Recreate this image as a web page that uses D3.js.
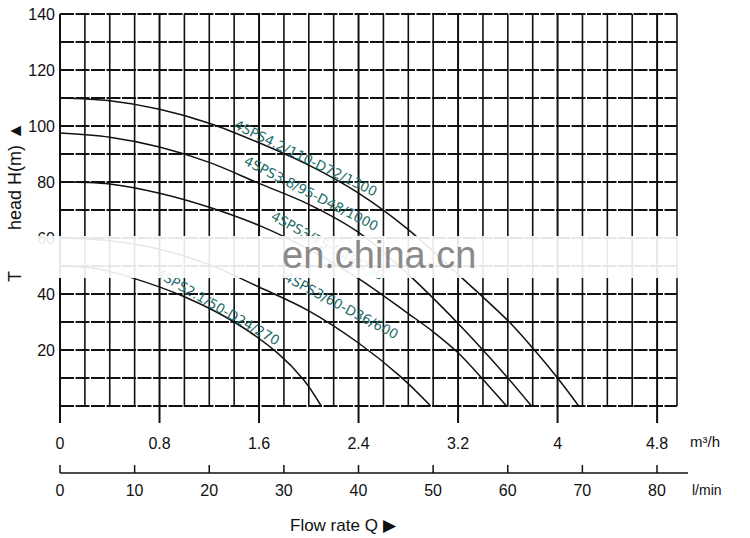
<!DOCTYPE html>
<html><head><meta charset="utf-8">
<script src="https://cdn.jsdelivr.net/npm/d3@7"></script>
<style>body{margin:0;background:#fff}</style></head>
<body><svg id="c" width="750" height="538"></svg>
<script>
const headTicks=[20,40,60,80,100,120,140];
const m3hTicks=[0,0.8,1.6,2.4,3.2,4,4.8];
const lminTicks=[0,10,20,30,40,50,60,70,80];
const curves=[
 {name:"4SPS4.2/110-D72/1300",pts:[[0,110],[0.4,109],[0.8,106],[1.2,101],[1.6,94],[2.0,86],[2.4,76],[2.8,63],[3.2,47],[3.6,30.5],[3.8,20.7],[4.0,10],[4.17,0]]},
 {name:"4SPS3.8/95-D48/1000",pts:[[0,97.5],[0.4,96],[0.8,92.5],[1.2,87],[1.6,79.5],[2.0,72],[2.4,62],[2.8,47],[3.2,29.5],[3.4,20],[3.6,10],[3.79,0]]},
 {name:"4SPS3/75-D48/750",pts:[[0,80],[0.4,79.3],[0.8,76],[1.2,71],[1.6,64.5],[2.0,56],[2.4,45.5],[2.8,33],[3.0,26.5],[3.2,19],[3.4,9.5],[3.59,0]]},
 {name:"4SPS3/60-D36/600",pts:[[0,60],[0.4,59],[0.8,56],[1.2,50.5],[1.6,42.5],[2.0,34],[2.4,22.5],[2.74,10.4],[2.98,0]]},
 {name:"4SPS2.1/50-D24/270",pts:[[0,50],[0.3,49],[0.6,45.5],[1.0,39],[1.4,30],[1.75,18.9],[1.96,9.3],[2.1,0]]}
];
const labels=[
 {i:0,x:233,y:128,a:26},{i:1,x:243,y:164,a:27},{i:2,x:270,y:219,a:29},
 {i:3,x:283,y:280,a:28},{i:4,x:155,y:276,a:30}];
const svg=d3.select("#c");
const x=d3.scaleLinear().domain([0,4.96]).range([60,677]);
const xl=d3.scaleLinear().domain([0,80]).range([60,657]);
const y=d3.scaleLinear().domain([0,140]).range([406,14]);
const g=svg.append("g");
g.selectAll(".v").data(d3.range(0,25)).join("line").attr("x1",i=>x(i*0.2)).attr("x2",i=>x(i*0.2))
 .attr("y1",y(140)).attr("y2",i=>i%4==0?423:407).attr("stroke","#111").attr("stroke-width",i=>i%4==0?2:1.6);
g.append("line").attr("x1",677).attr("x2",677).attr("y1",y(140)).attr("y2",y(0)).attr("stroke","#111").attr("stroke-width",1.6);
g.selectAll(".h").data(d3.range(0,15)).join("line").attr("y1",i=>y(i*10)).attr("y2",i=>y(i*10))
 .attr("x1",60).attr("x2",677).attr("stroke","#111").attr("stroke-width",1.8).attr("stroke-dasharray","14,1.5");
const line=d3.line().x(d=>x(d[0])).y(d=>y(d[1])).curve(d3.curveCatmullRom);
g.selectAll(".c").data(curves).join("path").attr("d",d=>line(d.pts)).attr("fill","none").attr("stroke","#111").attr("stroke-width",1.5);
g.selectAll(".lb").data(labels).join("text").attr("transform",d=>`translate(${d.x},${d.y}) rotate(${d.a})`)
 .text(d=>curves[d.i].name).attr("fill","#1f6d6a").attr("font-family","DejaVu Sans").attr("font-size",13.5);
svg.selectAll(".yl").data(headTicks).join("text").attr("x",55).attr("y",d=>y(d)+6).attr("text-anchor","end")
 .text(d=>d).attr("font-family","Liberation Sans").attr("font-size",16).attr("fill","#111");
svg.append("rect").attr("x",0).attr("y",236).attr("width",700).attr("height",42).attr("fill","#fff").attr("opacity",0.9);
svg.append("text").attr("x",282).attr("y",268).text("en.china.cn").attr("fill","#8a8a8a").attr("font-family","Liberation Sans").attr("font-size",38);
svg.append("text").attr("transform","translate(21,230) rotate(-90)").text("head H(m) ▲")
 .attr("font-family","Liberation Sans").attr("font-size",18).attr("fill","#111");
svg.append("text").attr("transform","translate(21,282) rotate(-90)").text("T")
 .attr("font-family","Liberation Sans").attr("font-size",18).attr("fill","#111");
svg.selectAll(".xm").data(m3hTicks).join("text").attr("x",d=>x(d)).attr("y",449).attr("text-anchor","middle")
 .text(d=>d).attr("font-family","Liberation Sans").attr("font-size",16).attr("fill","#111");
svg.append("text").attr("x",690).attr("y",447).text("m³/h").attr("font-family","Liberation Sans").attr("font-size",15).attr("fill","#111");
svg.append("line").attr("x1",60).attr("x2",688).attr("y1",473).attr("y2",473).attr("stroke","#111").attr("stroke-width",1.5);
svg.selectAll(".tl").data(lminTicks).join("line").attr("x1",d=>xl(d)).attr("x2",d=>xl(d)).attr("y1",465).attr("y2",473).attr("stroke","#111").attr("stroke-width",1.5);
svg.selectAll(".ll").data(lminTicks).join("text").attr("x",d=>xl(d)).attr("y",496).attr("text-anchor","middle")
 .text(d=>d).attr("font-family","Liberation Sans").attr("font-size",16).attr("fill","#111");
svg.append("text").attr("x",692).attr("y",495).text("l/min").attr("font-family","Liberation Sans").attr("font-size",14).attr("fill","#111");
svg.append("text").attr("x",290).attr("y",531).text("Flow rate Q  ▶").attr("font-family","Liberation Sans").attr("font-size",17).attr("fill","#111");
</script></body></html>
